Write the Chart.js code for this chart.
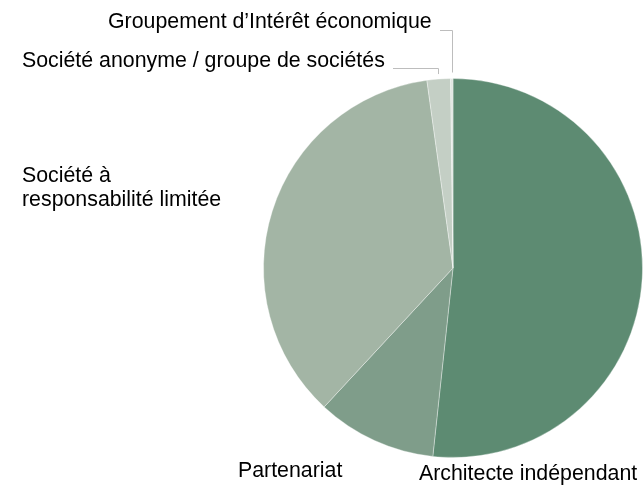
<!DOCTYPE html>
<html>
<head>
<meta charset="utf-8">
<script src="https://cdn.jsdelivr.net/npm/chart.js@4/dist/chart.umd.min.js"></script>
<style>
html,body{margin:0;padding:0;background:#fff;}
canvas{display:block;}
</style>
</head>
<body>
<canvas id="c" width="643" height="485"></canvas>
<script>
const categories = ["Architecte indépendant", "Partenariat", "Société à responsabilité limitée", "Société anonyme / groupe de sociétés", "Groupement d’Intérêt économique"];
const values = [51.7, 10.2, 35.9, 2.0, 0.2];
const colors = ["#5d8b72", "#7f9d8a", "#a3b5a5", "#c4cfc5", "#dfe5e0"];

const FONT = '21.33px "Liberation Sans", Arial, sans-serif';

const labelPlugin = {
  id: 'labels',
  afterDatasetsDraw(chart) {
    const ctx = chart.ctx;
    const arcs = chart.getDatasetMeta(0).data;
    ctx.save();
    ctx.font = FONT;
    ctx.fillStyle = '#000';
    ctx.textBaseline = 'middle';
    ctx.textAlign = 'left';
    const pt = (arc, extra) => {
      const mid = (arc.startAngle + arc.endAngle) / 2;
      return {x: arc.x + (arc.outerRadius + extra) * Math.cos(mid), y: arc.y + (arc.outerRadius + extra) * Math.sin(mid)};
    };
    ctx.strokeStyle = '#bdbdbd';
    ctx.lineWidth = 1;
    // GIE leader
    const g = pt(arcs[4], 6);
    ctx.beginPath();
    ctx.moveTo(Math.round(g.x) + 0.5, g.y);
    ctx.lineTo(Math.round(g.x) + 0.5, 30.5);
    ctx.lineTo(440, 30.5);
    ctx.stroke();
    // SA leader
    const s = pt(arcs[3], 5);
    ctx.beginPath();
    ctx.moveTo(Math.round(s.x) + 0.5, s.y);
    ctx.lineTo(Math.round(s.x) + 0.5, 68.5);
    ctx.lineTo(393, 68.5);
    ctx.stroke();

    ctx.fillText(categories[4], 108, 22);
    ctx.fillText(categories[3], 22, 61);
    ctx.fillText("Société à", 22, 176);
    ctx.fillText("responsabilité limitée", 22, 200);
    ctx.fillText(categories[1], 238, 471);
    ctx.fillText(categories[0], 419, 474);
    ctx.restore();
  }
};

new Chart(document.getElementById('c'), {
  type: 'pie',
  data: {
    labels: categories,
    datasets: [{
      data: values,
      backgroundColor: colors,
      borderColor: 'rgba(255,255,255,0.35)',
      borderWidth: 1
    }]
  },
  options: {
    responsive: false,
    animation: false,
    events: [],
    layout: {padding: {left: 263, right: 0, top: 77, bottom: 26}},
    plugins: {legend: {display: false}, tooltip: {enabled: false}}
  },
  plugins: [labelPlugin]
});
</script>
</body>
</html>
